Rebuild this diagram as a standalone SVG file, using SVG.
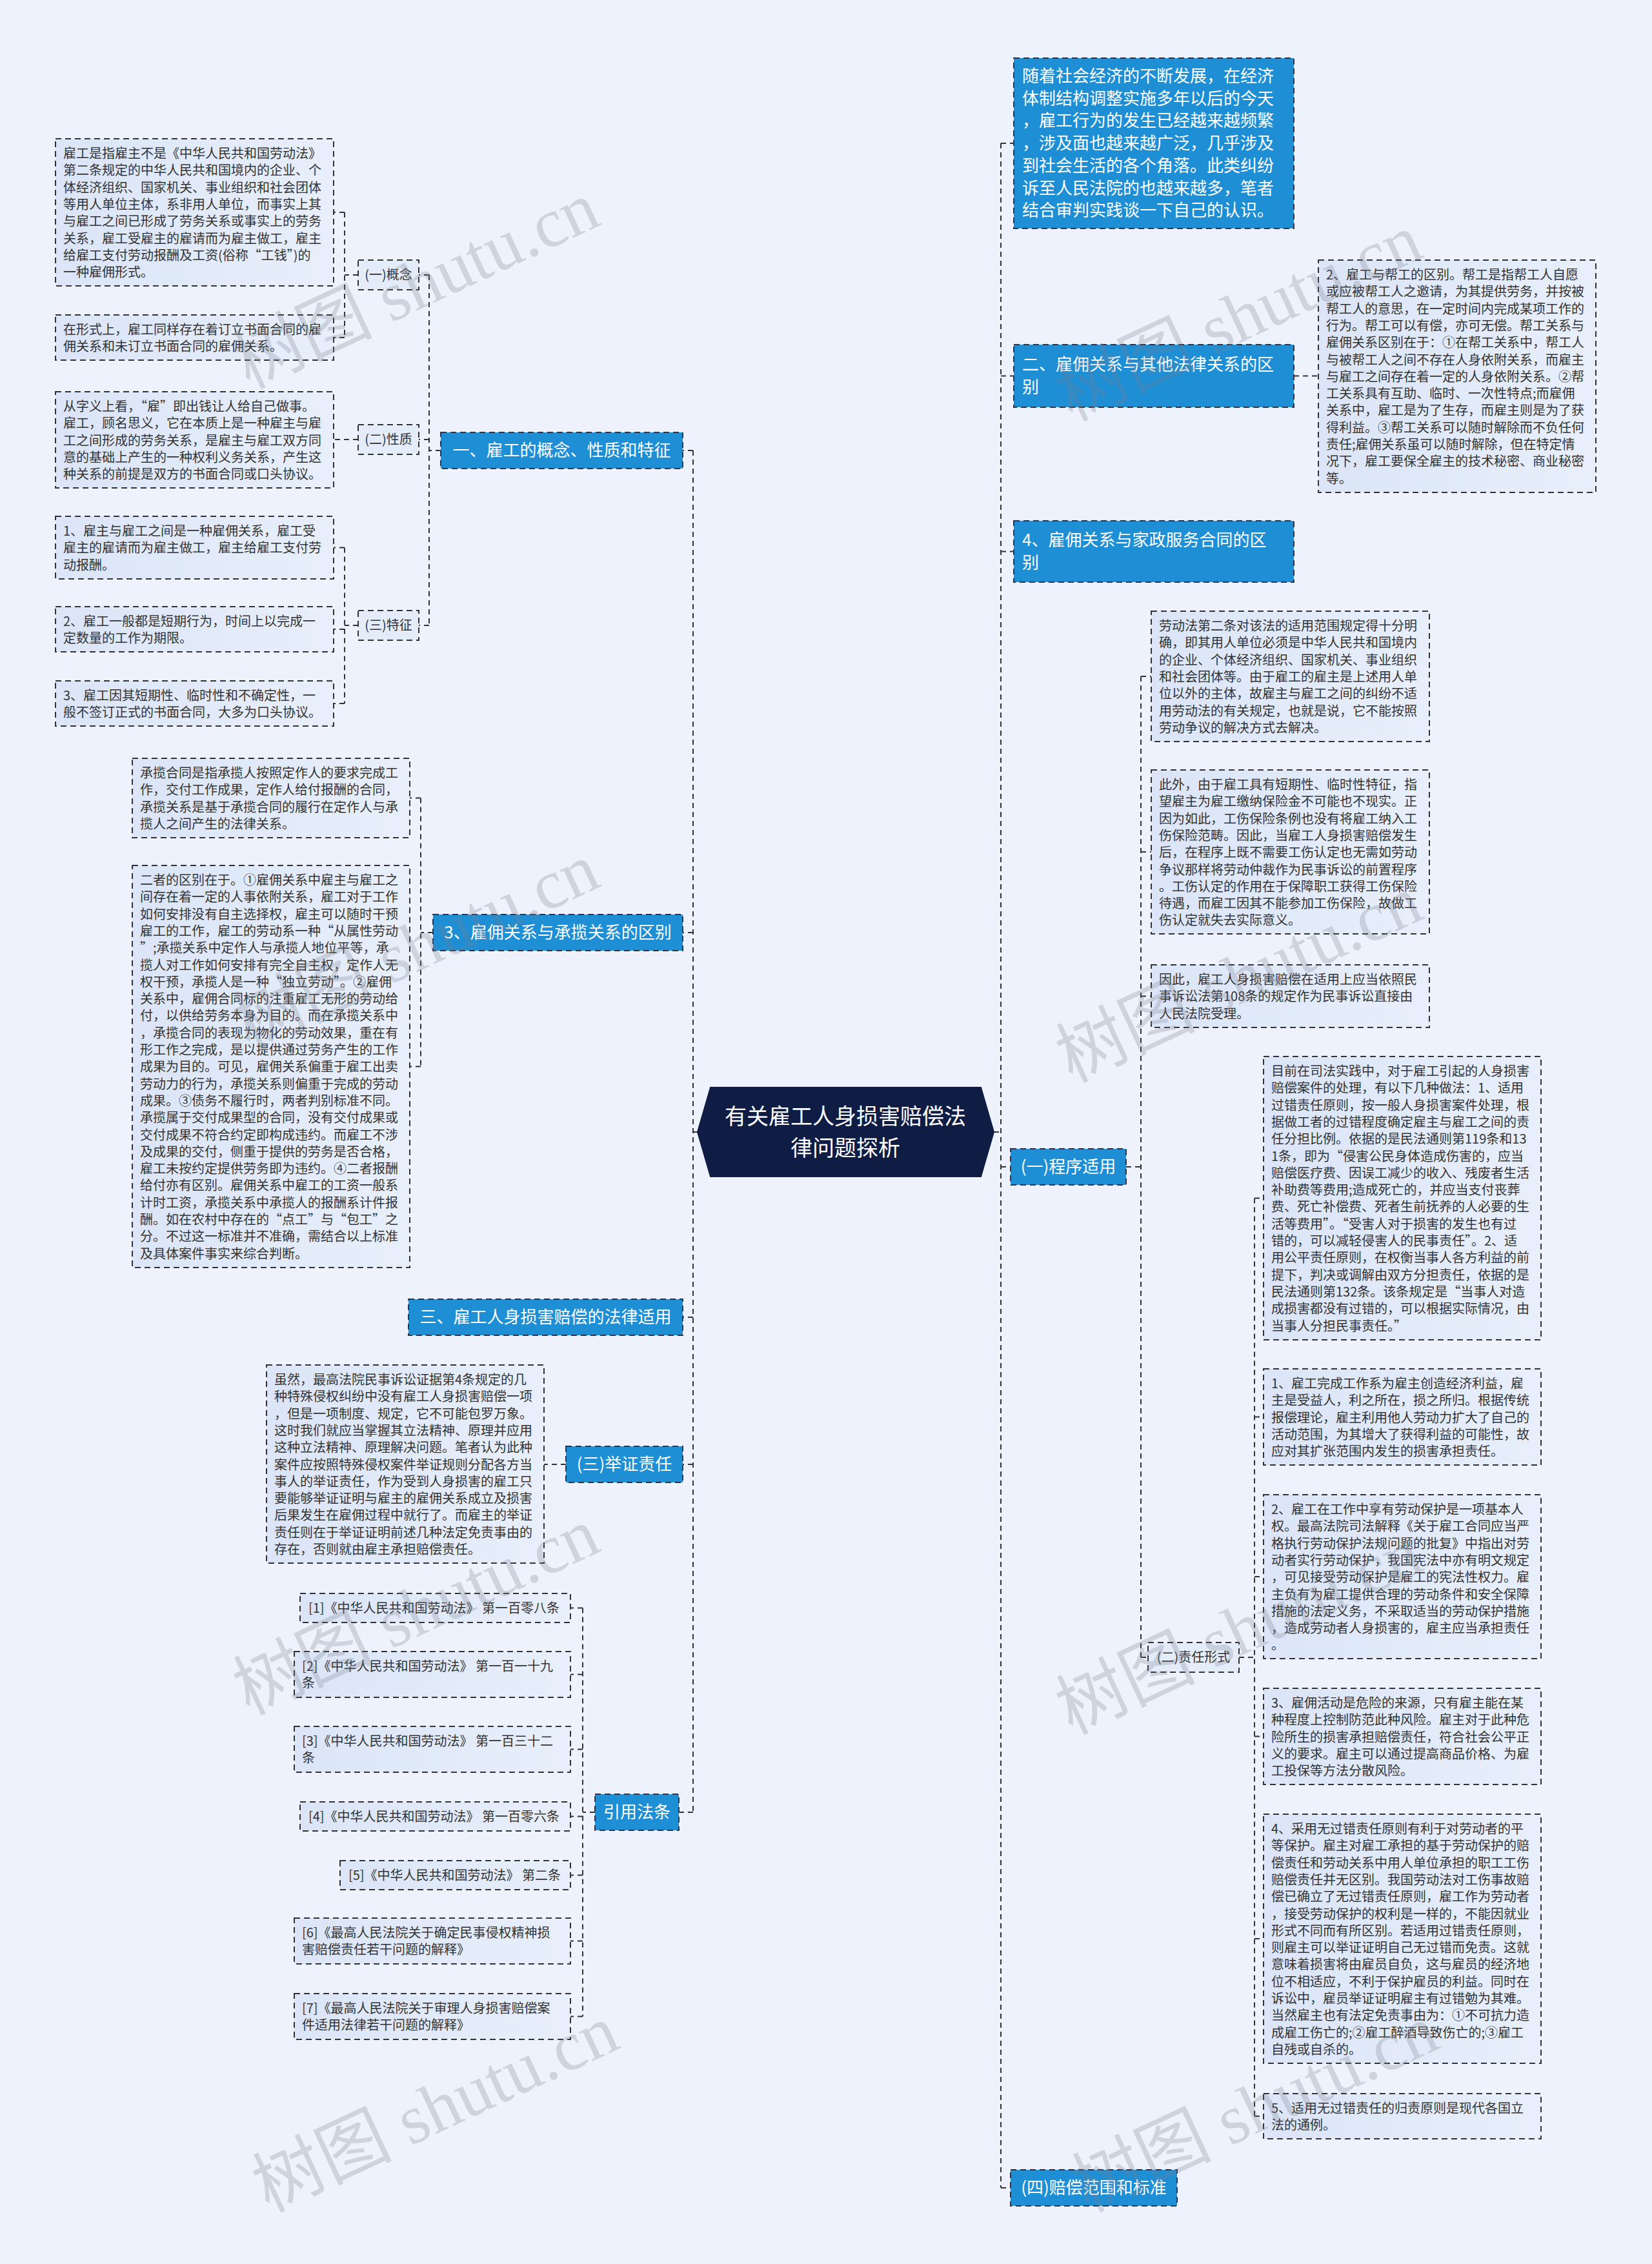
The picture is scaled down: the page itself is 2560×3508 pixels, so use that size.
<svg xmlns="http://www.w3.org/2000/svg" width="2560" height="3508" viewBox="0 0 2560 3508">
<defs>
<linearGradient id="gb" x1="0" y1="0" x2="1" y2="0"><stop offset="0" stop-color="#dbe5f7"/><stop offset="1" stop-color="#e8effb"/></linearGradient>
<style>
.t{font-family:"Noto Sans CJK SC","Liberation Sans",sans-serif;font-size:20px;fill:#333}
.box{fill:url(#gb);stroke:#333;stroke-width:2;stroke-dasharray:9 6}
.bn{fill:#1e8fd5;stroke:#2a3550;stroke-width:2;stroke-dasharray:9 6}
.bt{font-family:"Noto Sans CJK SC","Liberation Sans",sans-serif;font-size:26px;fill:#fff}
.sn{fill:#e4ecfa;stroke:#333;stroke-width:2;stroke-dasharray:9 6}
.st{font-family:"Noto Sans CJK SC","Liberation Sans",sans-serif;font-size:20px;fill:#333;text-anchor:middle}
.c{fill:none;stroke:#333;stroke-width:2;stroke-dasharray:8 6}
.wm{font-family:"Liberation Serif","Noto Sans CJK SC",serif;font-size:108px;fill:#7a7f8a;opacity:.26;text-anchor:middle}
</style>
</defs>
<rect x="0" y="0" width="2560" height="3508" fill="#edf2fc"/>

<g id="connectors">
<path class="c" d="M1081,1754 H1074 M1074,698 V2808 M1074,698 H1058 M1074,1445 H1058 M1074,2041 H1058 M1074,2269 H1058 M1074,2808 H1052"/>
<path class="c" d="M1540,1754 H1551 M1551,222 V3390 M1551,222 H1571 M1551,582.5 H1571 M1551,854.5 H1571 M1551,1808 H1566 M1551,3390 H1566"/>
<path class="c" d="M683,698 H665 M665,426 V969 M665,426 H649 M665,681 H649 M665,969 H649"/>
<path class="c" d="M555,426 H534 M534,329 V523 M534,329 H517 M534,523 H517"/>
<path class="c" d="M555,681 H517"/>
<path class="c" d="M555,969 H534 M534,848.5 V1090 M534,848.5 H517 M534,975 H517 M534,1090 H517"/>
<path class="c" d="M671,1445 H652 M652,1236.5 V1652.5 M652,1236.5 H635 M652,1652.5 H635"/>
<path class="c" d="M877,2269 H843"/>
<path class="c" d="M922,2808 H903 M903,2491.5 V3124.5 M903,2491.5 H884 M903,2594.5 H884 M903,2710.5 H884 M903,2814.5 H884 M903,2905.5 H884 M903,3007.5 H884 M903,3124.5 H884"/>
<path class="c" d="M2005,582.5 H2043"/>
<path class="c" d="M1745,1808 H1768 M1768,1048 V2568 M1768,1048 H1784 M1768,1320 H1784 M1768,1543.5 H1784 M1768,2568 H1779"/>
<path class="c" d="M1920,2568 H1944 M1944,1856.5 V3279 M1944,1856.5 H1958 M1944,2195.5 H1958 M1944,2443 H1958 M1944,2690.5 H1958 M1944,3004 H1958 M1944,3279 H1958"/>
</g>

<g id="center">
<polygon points="1081,1754 1101,1685 1520,1685 1540,1754 1520,1823 1101,1823" fill="#0f1d44" stroke="#0f1d44" stroke-width="2"/>
<text font-family="Noto Sans CJK SC, Liberation Sans, sans-serif" font-size="34" fill="#fff" text-anchor="middle"><tspan x="1310" y="1742">有关雇工人身损害赔偿法</tspan><tspan x="1310" y="1791">律问题探析</tspan></text>
</g>

<g id="n-l1">
<rect class="bn" x="683" y="670" width="375" height="56"/>
<text class="bt" x="870.5" y="707" text-anchor="middle">一、雇工的概念、性质和特征</text>
</g>
<g id="n-gainian">
<rect class="sn" x="555" y="403" width="94" height="46"/>
<text class="st" x="602" y="433">(一)概念</text>
</g>
<g id="n-xingzhi">
<rect class="sn" x="555" y="658" width="94" height="46"/>
<text class="st" x="602" y="688">(二)性质</text>
</g>
<g id="n-tezheng">
<rect class="sn" x="555" y="946" width="94" height="46"/>
<text class="st" x="602" y="976">(三)特征</text>
</g>
<g id="t-gainian1">
<rect class="box" x="86" y="215" width="431" height="228"/>
<text class="t" y="245"><tspan x="98">雇工是指雇主不是《中华人民共和国劳动法》</tspan><tspan x="98" dy="26.3">第二条规定的中华人民共和国境内的企业、个</tspan><tspan x="98" dy="26.3">体经济组织、国家机关、事业组织和社会团体</tspan><tspan x="98" dy="26.3">等用人单位主体，系非用人单位，而事实上其</tspan><tspan x="98" dy="26.3">与雇工之间已形成了劳务关系或事实上的劳务</tspan><tspan x="98" dy="26.3">关系，雇工受雇主的雇请而为雇主做工，雇主</tspan><tspan x="98" dy="26.3">给雇工支付劳动报酬及工资(俗称“工钱”)的</tspan><tspan x="98" dy="26.3">一种雇佣形式。</tspan></text>
</g>
<g id="t-gainian2">
<rect class="box" x="86" y="488" width="431" height="70"/>
<text class="t" y="518"><tspan x="98">在形式上，雇工同样存在着订立书面合同的雇</tspan><tspan x="98" dy="26.3">佣关系和未订立书面合同的雇佣关系。</tspan></text>
</g>
<g id="t-xingzhi">
<rect class="box" x="86" y="607" width="431" height="149"/>
<text class="t" y="637"><tspan x="98">从字义上看，“雇”即出钱让人给自己做事。</tspan><tspan x="98" dy="26.3">雇工，顾名思义，它在本质上是一种雇主与雇</tspan><tspan x="98" dy="26.3">工之间形成的劳务关系，是雇主与雇工双方同</tspan><tspan x="98" dy="26.3">意的基础上产生的一种权利义务关系，产生这</tspan><tspan x="98" dy="26.3">种关系的前提是双方的书面合同或口头协议。</tspan></text>
</g>
<g id="t-tezheng1">
<rect class="box" x="86" y="800" width="431" height="97"/>
<text class="t" y="830"><tspan x="98">1、雇主与雇工之间是一种雇佣关系，雇工受</tspan><tspan x="98" dy="26.3">雇主的雇请而为雇主做工，雇主给雇工支付劳</tspan><tspan x="98" dy="26.3">动报酬。</tspan></text>
</g>
<g id="t-tezheng2">
<rect class="box" x="86" y="940" width="431" height="70"/>
<text class="t" y="970"><tspan x="98">2、雇工一般都是短期行为，时间上以完成一</tspan><tspan x="98" dy="26.3">定数量的工作为期限。</tspan></text>
</g>
<g id="t-tezheng3">
<rect class="box" x="86" y="1055" width="431" height="70"/>
<text class="t" y="1085"><tspan x="98">3、雇工因其短期性、临时性和不确定性，一</tspan><tspan x="98" dy="26.3">般不签订正式的书面合同，大多为口头协议。</tspan></text>
</g>

<g id="n-l3">
<rect class="bn" x="671" y="1417" width="387" height="56"/>
<text class="bt" x="864.5" y="1454" text-anchor="middle">3、雇佣关系与承揽关系的区别</text>
</g>
<g id="t-chenglan">
<rect class="box" x="205" y="1175" width="430" height="123"/>
<text class="t" y="1205"><tspan x="217">承揽合同是指承揽人按照定作人的要求完成工</tspan><tspan x="217" dy="26.3">作，交付工作成果，定作人给付报酬的合同，</tspan><tspan x="217" dy="26.3">承揽关系是基于承揽合同的履行在定作人与承</tspan><tspan x="217" dy="26.3">揽人之间产生的法律关系。</tspan></text>
</g>
<g id="t-qubie">
<rect class="box" x="205" y="1341" width="430" height="623"/>
<text class="t" y="1371"><tspan x="217">二者的区别在于。①雇佣关系中雇主与雇工之</tspan><tspan x="217" dy="26.3">间存在着一定的人事依附关系，雇工对于工作</tspan><tspan x="217" dy="26.3">如何安排没有自主选择权，雇主可以随时干预</tspan><tspan x="217" dy="26.3">雇工的工作，雇工的劳动系一种“从属性劳动</tspan><tspan x="217" dy="26.3">”;承揽关系中定作人与承揽人地位平等，承</tspan><tspan x="217" dy="26.3">揽人对工作如何安排有完全自主权，定作人无</tspan><tspan x="217" dy="26.3">权干预，承揽人是一种“独立劳动”。②雇佣</tspan><tspan x="217" dy="26.3">关系中，雇佣合同标的注重雇工无形的劳动给</tspan><tspan x="217" dy="26.3">付，以供给劳务本身为目的。而在承揽关系中</tspan><tspan x="217" dy="26.3">，承揽合同的表现为物化的劳动效果，重在有</tspan><tspan x="217" dy="26.3">形工作之完成，是以提供通过劳务产生的工作</tspan><tspan x="217" dy="26.3">成果为目的。可见，雇佣关系偏重于雇工出卖</tspan><tspan x="217" dy="26.3">劳动力的行为，承揽关系则偏重于完成的劳动</tspan><tspan x="217" dy="26.3">成果。③债务不履行时，两者判别标准不同。</tspan><tspan x="217" dy="26.3">承揽属于交付成果型的合同，没有交付成果或</tspan><tspan x="217" dy="26.3">交付成果不符合约定即构成违约。而雇工不涉</tspan><tspan x="217" dy="26.3">及成果的交付，侧重于提供的劳务是否合格，</tspan><tspan x="217" dy="26.3">雇工未按约定提供劳务即为违约。④二者报酬</tspan><tspan x="217" dy="26.3">给付亦有区别。雇佣关系中雇工的工资一般系</tspan><tspan x="217" dy="26.3">计时工资，承揽关系中承揽人的报酬系计件报</tspan><tspan x="217" dy="26.3">酬。如在农村中存在的“点工”与“包工”之</tspan><tspan x="217" dy="26.3">分。不过这一标准并不准确，需结合以上标准</tspan><tspan x="217" dy="26.3">及具体案件事实来综合判断。</tspan></text>
</g>

<g id="n-san">
<rect class="bn" x="633" y="2013" width="425" height="56"/>
<text class="bt" x="845.5" y="2050" text-anchor="middle">三、雇工人身损害赔偿的法律适用</text>
</g>

<g id="n-juzheng">
<rect class="bn" x="877" y="2241" width="181" height="56"/>
<text class="bt" x="967.5" y="2278" text-anchor="middle">(三)举证责任</text>
</g>
<g id="t-juzheng">
<rect class="box" x="413" y="2115" width="430" height="307"/>
<text class="t" y="2145"><tspan x="425">虽然，最高法院民事诉讼证据第4条规定的几</tspan><tspan x="425" dy="26.3">种特殊侵权纠纷中没有雇工人身损害赔偿一项</tspan><tspan x="425" dy="26.3">，但是一项制度、规定，它不可能包罗万象。</tspan><tspan x="425" dy="26.3">这时我们就应当掌握其立法精神、原理并应用</tspan><tspan x="425" dy="26.3">这种立法精神、原理解决问题。笔者认为此种</tspan><tspan x="425" dy="26.3">案件应按照特殊侵权案件举证规则分配各方当</tspan><tspan x="425" dy="26.3">事人的举证责任，作为受到人身损害的雇工只</tspan><tspan x="425" dy="26.3">要能够举证证明与雇主的雇佣关系成立及损害</tspan><tspan x="425" dy="26.3">后果发生在雇佣过程中就行了。而雇主的举证</tspan><tspan x="425" dy="26.3">责任则在于举证证明前述几种法定免责事由的</tspan><tspan x="425" dy="26.3">存在，否则就由雇主承担赔偿责任。</tspan></text>
</g>

<g id="n-yinyong">
<rect class="bn" x="922" y="2780" width="130" height="56"/>
<text class="bt" x="987" y="2817" text-anchor="middle">引用法条</text>
</g>
<g id="cite1"><rect class="box" x="465" y="2469" width="419" height="45"/><text class="t" x="478" y="2498.5">[1]《中华人民共和国劳动法》 第一百零八条</text></g>
<g id="cite2"><rect class="box" x="456" y="2559" width="428" height="71"/><text class="t" y="2589"><tspan x="468">[2]《中华人民共和国劳动法》 第一百一十九</tspan><tspan x="468" dy="26.3">条</tspan></text></g>
<g id="cite3"><rect class="box" x="456" y="2675" width="428" height="71"/><text class="t" y="2705"><tspan x="468">[3]《中华人民共和国劳动法》 第一百三十二</tspan><tspan x="468" dy="26.3">条</tspan></text></g>
<g id="cite4"><rect class="box" x="465" y="2792" width="419" height="45"/><text class="t" x="478" y="2821.5">[4]《中华人民共和国劳动法》 第一百零六条</text></g>
<g id="cite5"><rect class="box" x="527" y="2883" width="357" height="45"/><text class="t" x="540" y="2912.5">[5]《中华人民共和国劳动法》 第二条</text></g>
<g id="cite6"><rect class="box" x="456" y="2972" width="428" height="71"/><text class="t" y="3002"><tspan x="468">[6]《最高人民法院关于确定民事侵权精神损</tspan><tspan x="468" dy="26.3">害赔偿责任若干问题的解释》</tspan></text></g>
<g id="cite7"><rect class="box" x="456" y="3089" width="428" height="71"/><text class="t" y="3119"><tspan x="468">[7]《最高人民法院关于审理人身损害赔偿案</tspan><tspan x="468" dy="26.3">件适用法律若干问题的解释》</tspan></text></g>

<g id="n-intro">
<rect class="bn" x="1571" y="90" width="434" height="264"/>
<text class="bt" y="127"><tspan x="1584">随着社会经济的不断发展，在经济</tspan><tspan x="1584" dy="34.7">体制结构调整实施多年以后的今天</tspan><tspan x="1584" dy="34.7">，雇工行为的发生已经越来越频繁</tspan><tspan x="1584" dy="34.7">，涉及面也越来越广泛，几乎涉及</tspan><tspan x="1584" dy="34.7">到社会生活的各个角落。此类纠纷</tspan><tspan x="1584" dy="34.7">诉至人民法院的也越来越多，笔者</tspan><tspan x="1584" dy="34.7">结合审判实践谈一下自己的认识。</tspan></text>
</g>
<g id="n-er">
<rect class="bn" x="1571" y="534" width="434" height="97"/>
<text class="bt" y="573.5"><tspan x="1584">二、雇佣关系与其他法律关系的区</tspan><tspan x="1584" dy="35">别</tspan></text>
</g>
<g id="t-banggong">
<rect class="box" x="2043" y="403" width="430" height="360"/>
<text class="t" y="433"><tspan x="2055">2、雇工与帮工的区别。帮工是指帮工人自愿</tspan><tspan x="2055" dy="26.3">或应被帮工人之邀请，为其提供劳务，并按被</tspan><tspan x="2055" dy="26.3">帮工人的意思，在一定时间内完成某项工作的</tspan><tspan x="2055" dy="26.3">行为。帮工可以有偿，亦可无偿。帮工关系与</tspan><tspan x="2055" dy="26.3">雇佣关系区别在于：①在帮工关系中，帮工人</tspan><tspan x="2055" dy="26.3">与被帮工人之间不存在人身依附关系，而雇主</tspan><tspan x="2055" dy="26.3">与雇工之间存在着一定的人身依附关系。②帮</tspan><tspan x="2055" dy="26.3">工关系具有互助、临时、一次性特点;而雇佣</tspan><tspan x="2055" dy="26.3">关系中，雇工是为了生存，而雇主则是为了获</tspan><tspan x="2055" dy="26.3">得利益。③帮工关系可以随时解除而不负任何</tspan><tspan x="2055" dy="26.3">责任;雇佣关系虽可以随时解除，但在特定情</tspan><tspan x="2055" dy="26.3">况下，雇工要保全雇主的技术秘密、商业秘密</tspan><tspan x="2055" dy="26.3">等。</tspan></text>
</g>
<g id="n-si">
<rect class="bn" x="1571" y="807" width="434" height="95"/>
<text class="bt" y="846"><tspan x="1584">4、雇佣关系与家政服务合同的区</tspan><tspan x="1584" dy="35">别</tspan></text>
</g>

<g id="n-chengxu">
<rect class="bn" x="1566" y="1780" width="179" height="56"/>
<text class="bt" x="1655.5" y="1817" text-anchor="middle">(一)程序适用</text>
</g>
<g id="t-laodongfa">
<rect class="box" x="1784" y="947" width="431" height="202"/>
<text class="t" y="977"><tspan x="1796">劳动法第二条对该法的适用范围规定得十分明</tspan><tspan x="1796" dy="26.3">确，即其用人单位必须是中华人民共和国境内</tspan><tspan x="1796" dy="26.3">的企业、个体经济组织、国家机关、事业组织</tspan><tspan x="1796" dy="26.3">和社会团体等。由于雇工的雇主是上述用人单</tspan><tspan x="1796" dy="26.3">位以外的主体，故雇主与雇工之间的纠纷不适</tspan><tspan x="1796" dy="26.3">用劳动法的有关规定，也就是说，它不能按照</tspan><tspan x="1796" dy="26.3">劳动争议的解决方式去解决。</tspan></text>
</g>
<g id="t-ciwai">
<rect class="box" x="1784" y="1193" width="431" height="254"/>
<text class="t" y="1223"><tspan x="1796">此外，由于雇工具有短期性、临时性特征，指</tspan><tspan x="1796" dy="26.3">望雇主为雇工缴纳保险金不可能也不现实。正</tspan><tspan x="1796" dy="26.3">因为如此，工伤保险条例也没有将雇工纳入工</tspan><tspan x="1796" dy="26.3">伤保险范畴。因此，当雇工人身损害赔偿发生</tspan><tspan x="1796" dy="26.3">后，在程序上既不需要工伤认定也无需如劳动</tspan><tspan x="1796" dy="26.3">争议那样将劳动仲裁作为民事诉讼的前置程序</tspan><tspan x="1796" dy="26.3">。工伤认定的作用在于保障职工获得工伤保险</tspan><tspan x="1796" dy="26.3">待遇，而雇工因其不能参加工伤保险，故做工</tspan><tspan x="1796" dy="26.3">伤认定就失去实际意义。</tspan></text>
</g>
<g id="t-yinci">
<rect class="box" x="1784" y="1495" width="431" height="97"/>
<text class="t" y="1525"><tspan x="1796">因此，雇工人身损害赔偿在适用上应当依照民</tspan><tspan x="1796" dy="26.3">事诉讼法第108条的规定作为民事诉讼直接由</tspan><tspan x="1796" dy="26.3">人民法院受理。</tspan></text>
</g>
<g id="n-zeren">
<rect class="sn" x="1779" y="2545" width="141" height="46"/>
<text class="st" x="1849.5" y="2575">(二)责任形式</text>
</g>
<g id="t-muqian">
<rect class="box" x="1958" y="1637" width="430" height="439"/>
<text class="t" y="1667"><tspan x="1970">目前在司法实践中，对于雇工引起的人身损害</tspan><tspan x="1970" dy="26.3">赔偿案件的处理，有以下几种做法：1、适用</tspan><tspan x="1970" dy="26.3">过错责任原则，按一般人身损害案件处理，根</tspan><tspan x="1970" dy="26.3">据做工者的过错程度确定雇主与雇工之间的责</tspan><tspan x="1970" dy="26.3">任分担比例。依据的是民法通则第119条和13</tspan><tspan x="1970" dy="26.3">1条，即为“侵害公民身体造成伤害的，应当</tspan><tspan x="1970" dy="26.3">赔偿医疗费、因误工减少的收入、残废者生活</tspan><tspan x="1970" dy="26.3">补助费等费用;造成死亡的，并应当支付丧葬</tspan><tspan x="1970" dy="26.3">费、死亡补偿费、死者生前抚养的人必要的生</tspan><tspan x="1970" dy="26.3">活等费用”。“受害人对于损害的发生也有过</tspan><tspan x="1970" dy="26.3">错的，可以减轻侵害人的民事责任”。2、适</tspan><tspan x="1970" dy="26.3">用公平责任原则，在权衡当事人各方利益的前</tspan><tspan x="1970" dy="26.3">提下，判决或调解由双方分担责任，依据的是</tspan><tspan x="1970" dy="26.3">民法通则第132条。该条规定是“当事人对造</tspan><tspan x="1970" dy="26.3">成损害都没有过错的，可以根据实际情况，由</tspan><tspan x="1970" dy="26.3">当事人分担民事责任。”</tspan></text>
</g>
<g id="t-zr1">
<rect class="box" x="1958" y="2121" width="430" height="149"/>
<text class="t" y="2151"><tspan x="1970">1、雇工完成工作系为雇主创造经济利益，雇</tspan><tspan x="1970" dy="26.3">主是受益人，利之所在，损之所归。根据传统</tspan><tspan x="1970" dy="26.3">报偿理论，雇主利用他人劳动力扩大了自己的</tspan><tspan x="1970" dy="26.3">活动范围，为其增大了获得利益的可能性，故</tspan><tspan x="1970" dy="26.3">应对其扩张范围内发生的损害承担责任。</tspan></text>
</g>
<g id="t-zr2">
<rect class="box" x="1958" y="2316" width="430" height="254"/>
<text class="t" y="2346"><tspan x="1970">2、雇工在工作中享有劳动保护是一项基本人</tspan><tspan x="1970" dy="26.3">权。最高法院司法解释《关于雇工合同应当严</tspan><tspan x="1970" dy="26.3">格执行劳动保护法规问题的批复》中指出对劳</tspan><tspan x="1970" dy="26.3">动者实行劳动保护，我国宪法中亦有明文规定</tspan><tspan x="1970" dy="26.3">，可见接受劳动保护是雇工的宪法性权力。雇</tspan><tspan x="1970" dy="26.3">主负有为雇工提供合理的劳动条件和安全保障</tspan><tspan x="1970" dy="26.3">措施的法定义务，不采取适当的劳动保护措施</tspan><tspan x="1970" dy="26.3">，造成劳动者人身损害的，雇主应当承担责任</tspan><tspan x="1970" dy="26.3">。</tspan></text>
</g>
<g id="t-zr3">
<rect class="box" x="1958" y="2616" width="430" height="149"/>
<text class="t" y="2646"><tspan x="1970">3、雇佣活动是危险的来源，只有雇主能在某</tspan><tspan x="1970" dy="26.3">种程度上控制防范此种风险。雇主对于此种危</tspan><tspan x="1970" dy="26.3">险所生的损害承担赔偿责任，符合社会公平正</tspan><tspan x="1970" dy="26.3">义的要求。雇主可以通过提高商品价格、为雇</tspan><tspan x="1970" dy="26.3">工投保等方法分散风险。</tspan></text>
</g>
<g id="t-zr4">
<rect class="box" x="1958" y="2811" width="430" height="386"/>
<text class="t" y="2841"><tspan x="1970">4、采用无过错责任原则有利于对劳动者的平</tspan><tspan x="1970" dy="26.3">等保护。雇主对雇工承担的基于劳动保护的赔</tspan><tspan x="1970" dy="26.3">偿责任和劳动关系中用人单位承担的职工工伤</tspan><tspan x="1970" dy="26.3">赔偿责任并无区别。我国劳动法对工伤事故赔</tspan><tspan x="1970" dy="26.3">偿已确立了无过错责任原则，雇工作为劳动者</tspan><tspan x="1970" dy="26.3">，接受劳动保护的权利是一样的，不能因就业</tspan><tspan x="1970" dy="26.3">形式不同而有所区别。若适用过错责任原则，</tspan><tspan x="1970" dy="26.3">则雇主可以举证证明自己无过错而免责。这就</tspan><tspan x="1970" dy="26.3">意味着损害将由雇员自负，这与雇员的经济地</tspan><tspan x="1970" dy="26.3">位不相适应，不利于保护雇员的利益。同时在</tspan><tspan x="1970" dy="26.3">诉讼中，雇员举证证明雇主有过错勉为其难。</tspan><tspan x="1970" dy="26.3">当然雇主也有法定免责事由为：①不可抗力造</tspan><tspan x="1970" dy="26.3">成雇工伤亡的;②雇工醉酒导致伤亡的;③雇工</tspan><tspan x="1970" dy="26.3">自残或自杀的。</tspan></text>
</g>
<g id="t-zr5">
<rect class="box" x="1958" y="3244" width="430" height="70"/>
<text class="t" y="3274"><tspan x="1970">5、适用无过错责任的归责原则是现代各国立</tspan><tspan x="1970" dy="26.3">法的通例。</tspan></text>
</g>
<g id="n-peichang">
<rect class="bn" x="1566" y="3362" width="258" height="56"/>
<text class="bt" x="1695" y="3399" text-anchor="middle">(四)赔偿范围和标准</text>
</g>

<g id="watermarks">
<text class="wm" transform="translate(660,475) rotate(-25)">树图 shutu.cn</text>
<text class="wm" transform="translate(1935,525) rotate(-25)">树图 shutu.cn</text>
<text class="wm" transform="translate(660,1500) rotate(-25)">树图 shutu.cn</text>
<text class="wm" transform="translate(1935,1550) rotate(-25)">树图 shutu.cn</text>
<text class="wm" transform="translate(660,2530) rotate(-25)">树图 shutu.cn</text>
<text class="wm" transform="translate(1935,2560) rotate(-25)">树图 shutu.cn</text>
<text class="wm" transform="translate(690,3300) rotate(-25)">树图 shutu.cn</text>
<text class="wm" transform="translate(1960,3300) rotate(-25)">树图 shutu.cn</text>
</g>
</svg>
